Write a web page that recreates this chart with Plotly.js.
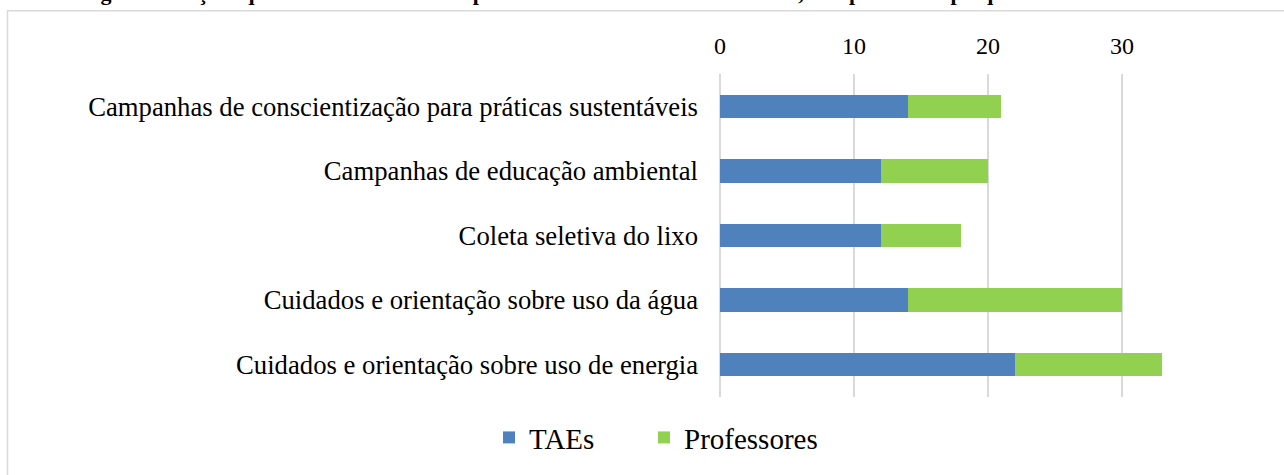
<!DOCTYPE html>
<html>
<head>
<meta charset="utf-8">
<script src="https://cdn.plot.ly/plotly-3.0.1.min.js"></script>
<style>
html,body{margin:0;padding:0;background:#fff;}
#chart{width:1284px;height:475px;}
</style>
</head>
<body>
<div id="chart"></div>
<script>
const categories = [
  "Campanhas de conscientização para práticas sustentáveis",
  "Campanhas de educação ambiental",
  "Coleta seletiva do lixo",
  "Cuidados e orientação sobre uso da água",
  "Cuidados e orientação sobre uso de energia"
];
const taes = [14, 12, 12, 14, 22];
const professores = [7, 8, 6, 16, 11];
const seriesNames = ["TAEs", "Professores"];
const xTicks = [0, 10, 20, 30];
const titleText = "Figura 1 – Ações que o IFS deve fazer em prol da sustentabilidade ambiental, na opinião dos pesquisados";

const W = 1284, H = 475;
const m = {l: 720, r: 95, t: 73.5, b: 75};
const pw = W - m.l - m.r, ph = H - m.t - m.b;
const px = x => (x - m.l) / pw;
const py = y => (H - m.b - y) / ph;

const font = "Liberation Serif, Times New Roman, serif";

const data = [
  {type: "bar", orientation: "h", name: seriesNames[0], y: categories, x: taes,
   marker: {color: "#4F81BD"}, legend: "legend"},
  {type: "bar", orientation: "h", name: seriesNames[1], y: categories, x: professores,
   marker: {color: "#92D050"}, legend: "legend2"}
];

const legendBase = {orientation: "h", xanchor: "left", y: py(441), yanchor: "middle",
                    font: {size: 29, family: font}, bgcolor: "rgba(0,0,0,0)"};

const layout = {
  width: W, height: H,
  margin: m,
  barmode: "stack",
  bargap: 0.635,
  paper_bgcolor: "#fff", plot_bgcolor: "#fff",
  font: {family: font, color: "#000", size: 26},
  showlegend: true,
  legend: Object.assign({}, legendBase, {x: px(489)}),
  legend2: Object.assign({}, legendBase, {x: px(644)}),
  xaxis: {side: "top", range: [0, 35], tickvals: xTicks, ticktext: xTicks.map(String),
          showgrid: true, gridcolor: "#D9D9D9", gridwidth: 1.5,
          zeroline: true, zerolinecolor: "#D9D9D9", zerolinewidth: 1.5,
          showline: false, ticks: "", tickfont: {size: 24, family: font},
          ticklabelstandoff: 14, fixedrange: true, automargin: false},
  yaxis: {autorange: "reversed", showgrid: false, zeroline: false, showline: false,
          ticks: "", tickfont: {size: 26.7, family: font}, ticklabelstandoff: 21,
          fixedrange: true, automargin: false},
  shapes: [
    {type: "rect", xref: "paper", yref: "paper",
     x0: px(7.5), x1: px(1300), y0: py(490), y1: py(9.5),
     line: {color: "#D9D9D9", width: 1.5}, fillcolor: "rgba(0,0,0,0)", layer: "below"}
  ],
  annotations: [
    {text: "<b>" + titleText + "</b>", xref: "paper", yref: "paper",
     x: px(572), y: py(-9), xanchor: "center", yanchor: "middle", showarrow: false,
     font: {size: 22, family: font, color: "#000"}}
  ]
};

Plotly.newPlot("chart", data, layout, {displayModeBar: false, staticPlot: true});
</script>
</body>
</html>
